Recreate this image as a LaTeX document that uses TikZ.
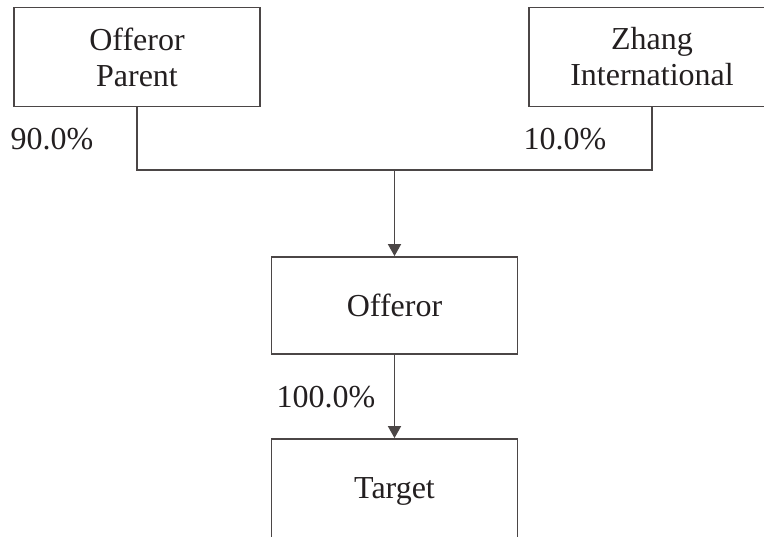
\documentclass[tikz,border=0pt]{standalone}
\usepackage{fontspec}
\setmainfont{Liberation Serif}
\usetikzlibrary{arrows.meta}
\definecolor{linecolor}{RGB}{75, 70, 70}
\definecolor{labelcolor}{RGB}{35, 31, 32}

\begin{document}
\begin{tikzpicture}[
    x=1pt, y=1pt,
    every node/.style={font=\fontsize{32}{36}\selectfont, text=labelcolor},
    entity/.style={draw=linecolor, line width=1.8pt, minimum width=246pt,
        minimum height=99pt, align=center, inner sep=0pt},
    share/.style={anchor=base},
    link/.style={draw=linecolor, line width=1.8pt},
    owns/.style={link, -{Triangle[width=13pt, length=12pt]}}
]
\useasboundingbox (0,0) rectangle (764,-537);
\clip (0,0) rectangle (764,-537);

\node[entity] (parent) at (137,-57) {Offeror\\Parent};
\node[entity] (zhang) at (652,-57) {Zhang\\International};
\node[entity, minimum height=97pt] (offeror) at (394.5,-305.5) {Offeror};
\node[entity, minimum height=104pt] (target) at (394.5,-491) {Target};

\coordinate (join) at (offeror.north |- 0,-170);

\draw[link] (parent.south) |- (join) -| (zhang.south);
\draw[owns] (join) -- (offeror.north);
\draw[owns] (offeror.south) -- (target.north);

\node[share] (pct90) at (52,-150) {90.0\%};
\node[share] (pct10) at (565,-150) {10.0\%};
\node[share] (pct100) at (326,-408) {100.0\%};
\end{tikzpicture}
\end{document}
